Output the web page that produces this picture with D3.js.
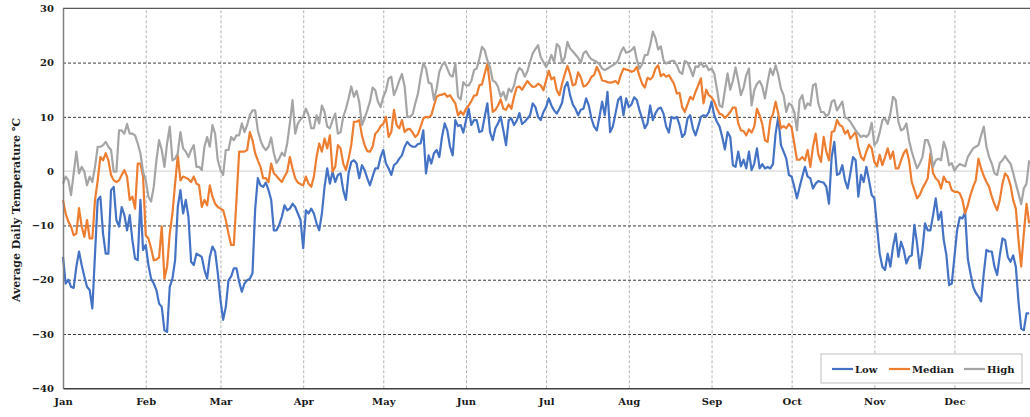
<!DOCTYPE html>
<html>
<head>
<meta charset="utf-8">
<script src="https://cdn.jsdelivr.net/npm/d3@7.9.0/dist/d3.min.js"></script>
<style>
  html, body { margin: 0; padding: 0; background: #fff; }
  svg { display: block; }
  text { font-family: 'DejaVu Serif', serif; font-weight: bold; fill: #1a1a1a; }
</style>
</head>
<body>
<div id="chart"></div>
<script>
// daily values, starting 1 January
const startDate = new Date(2019, 0, 1);

const low = [
  -15.8, -20.7, -20.0, -21.3, -21.5, -17.6, -14.8, -17.3, -19.4, -21.3, -21.9, -25.3, -15.2, -5.3, -4.7, -11.5, -15.2, -15.2, -3.5, -2.9,
  -9.0, -10.2, -6.6, -8.1, -10.9, -8.1, -12.7, -16.1, -16.4, -5.3, -14.5, -13.6, -17.3, -19.8, -20.7, -21.9, -24.4,
  -25.0, -29.3, -29.6, -21.3, -19.8, -16.4, -6.6, -3.5, -7.8, -5.3, -8.4, -16.7, -17.3, -15.2, -15.5, -15.8, -18.2, -19.8, -15.8, -13.9,
  -14.8, -18.8, -23.7, -27.4, -25.0, -20.1, -19.4, -17.9, -17.9, -20.4, -22.2, -20.7, -20.1, -19.8,
  -18.8, -7.0, -1.3, -2.6, -2.9, -2.1, -3.5, -5.3, -10.9, -10.9, -9.9, -8.4, -6.3, -7.2, -6.9, -6.0, -6.6, -7.8, -9.0, -14.2,
  -7.2, -7.8, -6.9, -7.8, -9.6, -10.9, -7.8, -2.9, 0.5, -2.3, -0.1, -2.0, -0.7, -0.4, -3.5, -5.3, -0.4,
  1.7, 2.0, 1.4, -1.3, 1.1, 0.2, -1.3, -2.6, -1.0, 0.5, 0.5, 2.6, 3.9, 1.4, 0.5, -0.7, 1.1, 1.5, 2.3, 2.9,
  4.5, 5.4, 4.8, 4.5, 4.5, 5.0, 5.1, 7.5, -0.4, 2.9, 1.4, 3.3, 3.9, 2.6, 6.3, 8.8,
  7.5, 4.5, 2.9, 9.4, 8.3, 8.5, 7.1, 9.4, 11.5, 8.5, 9.4, 9.4, 7.2, 7.4, 10.0, 12.5, 7.2, 5.7, 7.9, 8.8,
  10.0, 7.5, 4.8, 9.4, 9.7, 8.5, 9.3, 10.7, 8.7, 9.1, 9.7, 10.3, 12.5, 11.8, 10.0,
  9.4, 10.9, 11.8, 13.4, 12.1, 11.2, 10.6, 11.5, 12.6, 15.5, 16.4, 14.0, 12.3, 11.5, 10.3, 11.3, 11.5, 13.4, 12.1, 9.7,
  8.2, 7.5, 10.0, 12.8, 10.3, 14.6, 7.2, 8.2, 10.6, 13.1, 13.7, 10.3, 13.4, 11.8, 12.3, 13.6,
  13.1, 11.2, 9.7, 7.9, 8.8, 12.1, 9.4, 10.7, 11.5, 11.7, 10.6, 8.2, 7.1, 10.0, 9.7, 10.0, 8.5, 6.3, 6.9, 9.7,
  10.3, 7.9, 6.6, 8.2, 10.0, 10.3, 10.1, 10.9, 12.8, 10.3, 9.1, 8.2, 6.3, 4.0,
  7.2, 6.3, 1.1, 0.8, 3.6, 0.9, 2.1, 0.5, 3.6, 0.2, 1.4, 4.2, 0.5, 1.3, 0.5, 0.8, 0.5, 1.3, 6.9, 10.0,
  4.8, 3.6, 2.3, -0.7, -1.0, -2.9, -5.0, -2.9, -1.0, 0.8, -1.0, -1.3, -3.2, -2.3, -1.8, -2.0,
  -2.1, -2.9, -6.0, 2.6, 5.4, -0.7, -0.4, 1.1, -1.7, -3.2, -0.4, 2.6, 2.0, -4.7, -0.7, -2.0, 0.8, -1.7, -4.4, -5.0,
  -10.2, -15.2, -17.6, -18.2, -15.2, -17.6, -13.9, -11.5, -15.8, -13.0, -14.5, -17.0, -15.8, -15.5, -9.9, -13.3,
  -17.9, -14.5, -9.6, -10.9, -10.9, -8.1, -5.0, -9.0, -7.5, -12.7, -15.5, -21.0, -20.7, -15.8, -10.9, -8.5, -8.7, -7.5, -16.1, -18.8,
  -21.3, -22.4, -23.1, -24.0, -18.8, -14.5, -14.8, -14.8, -17.6, -19.1, -15.5, -12.4, -12.7, -15.8, -16.7, -15.5, -17.6, -24.0, -29.0, -29.3,
  -26.2, -26.2
];

const median = [
  -5.3, -7.8, -9.3, -10.2, -11.8, -11.5, -6.8, -10.2, -12.1, -9.0, -12.4, -12.4, -5.3, -1.7, 2.6, 2.0, 3.3, 2.0, -0.7, -1.7,
  -2.0, -1.7, -0.7, 0.2, -1.0, -5.3, -4.7, -6.9, 1.4, 1.4, -1.0, -11.8, -12.4, -14.2, -16.4, -16.3, -15.9,
  -10.2, -19.8, -17.6, -11.5, -7.8, -2.3, 2.9, -1.7, -1.0, -1.2, -1.5, -2.0, -1.0, -2.3, -2.6, -6.6, -5.3, -6.3, -2.6, -4.7,
  -6.0, -6.6, -6.9, -7.2, -9.0, -11.5, -13.6, -13.6, -5.3, 3.6, 3.6, 3.6, 3.9, 7.2,
  5.7, 3.3, 2.0, 0.8, -1.3, -1.3, -2.0, 1.4, -0.4, -0.9, -1.5, -2.0, -1.0, -0.1, 2.6, 0.5, -1.3, -2.1, -2.4, -2.6,
  -1.0, -2.3, -2.9, -1.0, 2.6, 5.1, 3.6, 6.0, 4.2, 6.6, -0.1, 0.8, 4.8, 4.2, 1.4, 0.2, 2.3,
  4.8, 9.1, 9.1, 9.4, 6.6, 4.8, 3.7, 3.6, 4.5, 6.9, 7.4, 8.3, 8.7, 10.0, 6.3, 7.2, 11.3, 8.5, 7.9, 9.4,
  7.2, 7.7, 7.8, 7.1, 6.3, 6.8, 8.2, 9.7, 10.0, 9.9, 10.3, 12.1, 13.7, 14.0, 14.1, 14.3,
  13.7, 14.0, 13.2, 12.5, 10.3, 11.0, 10.4, 11.5, 12.1, 12.9, 13.9, 14.0, 15.8, 16.0, 18.0, 19.8, 15.8, 10.9, 11.3, 12.1,
  13.2, 11.5, 11.3, 12.3, 11.5, 13.7, 15.4, 15.6, 15.0, 15.8, 16.6, 16.0, 15.5, 15.6, 16.1,
  15.8, 14.9, 16.7, 18.5, 16.9, 17.3, 14.9, 14.0, 16.1, 17.9, 19.4, 17.9, 15.8, 16.0, 18.2, 17.3, 15.6, 15.8, 16.4, 17.4,
  17.7, 19.2, 18.2, 16.7, 16.6, 16.4, 16.3, 16.4, 16.6, 16.1, 17.7, 18.9, 18.7, 18.6, 18.3, 18.5,
  19.2, 17.5, 16.1, 15.4, 17.2, 16.9, 17.4, 18.9, 19.5, 17.5, 17.9, 17.4, 17.7, 16.9, 16.0, 14.3, 14.4, 11.8, 10.9, 12.3,
  13.7, 13.2, 14.6, 15.8, 17.1, 12.5, 15.0, 14.0, 13.6, 12.8, 11.5, 10.6, 10.4, 9.8,
  10.3, 10.9, 11.7, 11.7, 8.8, 7.5, 7.4, 6.6, 7.7, 7.1, 8.2, 11.5, 10.3, 8.7, 5.7, 5.4, 9.4, 10.5, 12.8, 10.6,
  7.9, 8.3, 7.9, 8.7, 8.0, 5.1, 2.1, 2.1, 2.6, 2.0, 3.9, 0.8, 4.5, 6.9, 3.1, 1.7,
  6.3, 3.6, 2.0, 7.2, 7.4, 9.4, 8.5, 8.2, 6.9, 7.5, 6.0, 6.6, 7.2, 4.5, 2.6, 2.0, 3.6, 4.9, 4.2, 1.7,
  0.9, 3.0, 1.1, 2.6, 4.2, 2.3, 3.6, 0.5, 0.5, 2.0, 3.3, 4.0, 2.0, -2.0, -3.5, -5.0,
  -4.4, -3.2, -2.3, -1.3, 3.3, -0.4, -1.3, -1.8, -3.2, -1.0, -2.0, -2.0, -3.5, -3.8, -3.8, -4.1, -5.3, -7.8, -6.3, -4.4,
  -2.9, -1.7, 2.3, 0.5, -0.9, -2.0, -2.9, -4.7, -6.1, -7.2, -5.3, -2.3, -0.4, -1.0, -2.6, -5.3, -6.9, -12.7, -17.6, -11.5,
  -6.0, -9.6
];

const high = [
  -2.3, -1.0, -1.7, -4.4, -0.4, 3.6, -0.4, 0.8, -0.1, -2.6, -1.0, -2.0, 0.8, 4.5, 4.5, 4.8, 5.4, 4.5, 3.9, -0.1,
  -0.1, 7.5, 7.5, 6.9, 8.7, 6.9, 6.9, 6.6, 5.1, 3.3, -0.1, -1.7, -4.7, -5.6, -2.9, 2.0, 5.7,
  3.9, 0.8, 5.1, 8.2, 2.0, 2.3, 3.3, 7.2, 4.2, 3.6, 2.6, 3.9, 4.8, 0.8, 0.8, 0.2, 4.5, 6.3, 4.5, 8.5,
  6.9, 2.0, 0.2, -0.7, 3.9, 3.9, 6.3, 5.7, 6.6, 6.6, 8.8, 7.2, 8.5, 10.3,
  11.2, 11.2, 7.5, 5.7, 4.5, 3.9, 4.5, 6.2, 3.3, 1.5, 2.3, 3.4, 2.8, 5.1, 8.8, 13.1, 6.9, 8.8, 9.5, 10.1,
  11.5, 10.3, 7.9, 7.9, 10.3, 8.8, 12.1, 10.9, 8.2, 7.9, 9.4, 10.6, 6.9, 7.2, 10.0, 11.5, 13.4,
  15.6, 13.7, 14.8, 12.7, 8.5, 9.7, 11.2, 12.8, 15.4, 14.9, 12.8, 11.8, 13.7, 14.8, 17.1, 17.4, 14.0, 15.2, 16.7, 17.9,
  15.6, 10.0, 10.0, 10.5, 12.5, 14.3, 17.4, 19.9, 18.9, 16.3, 16.1, 13.1, 15.2, 18.3, 19.5, 20.1,
  18.9, 17.7, 17.4, 19.8, 13.7, 13.2, 16.4, 15.8, 15.8, 16.6, 18.6, 18.9, 20.7, 22.9, 22.3, 20.4, 19.2, 16.7, 16.4, 15.5,
  13.7, 14.6, 13.1, 15.2, 14.6, 15.8, 18.0, 19.0, 18.6, 17.4, 18.4, 20.1, 21.7, 22.5, 23.2,
  21.0, 20.1, 19.2, 20.1, 21.4, 20.1, 23.4, 22.9, 20.0, 21.0, 23.8, 22.6, 22.1, 21.5, 20.9, 20.0, 21.7, 22.1, 21.2, 20.6,
  20.4, 20.1, 19.7, 18.9, 18.6, 18.9, 19.2, 19.5, 19.8, 20.4, 21.9, 22.8, 21.8, 22.0, 22.3, 22.9,
  20.5, 18.9, 19.7, 21.4, 21.4, 23.2, 25.7, 24.5, 22.4, 23.0, 20.4, 19.8, 20.1, 20.3, 20.3, 19.5, 18.3, 17.9, 20.3, 20.0,
  18.9, 17.5, 19.3, 19.2, 20.0, 19.2, 19.5, 18.6, 18.9, 18.0, 15.2, 12.1, 11.8, 14.9,
  18.0, 15.0, 16.7, 19.1, 16.7, 14.0, 15.4, 17.7, 18.9, 12.1, 14.9, 16.1, 16.6, 15.6, 13.4, 16.4, 18.9, 17.7, 19.5, 17.7,
  15.2, 14.0, 10.9, 12.5, 12.1, 10.9, 7.5, 13.1, 14.0, 11.5, 12.5, 12.1, 15.8, 16.1, 12.5, 10.9,
  10.9, 10.1, 10.6, 12.8, 13.1, 11.2, 12.0, 12.8, 9.9, 9.7, 9.1, 8.3, 7.5, 6.9, 6.3, 6.6, 6.3, 6.9, 8.9, 4.8,
  5.4, 7.1, 9.4, 9.7, 8.7, 10.6, 13.7, 13.1, 9.1, 7.5, 7.8, 8.8, 5.7, 3.6, 2.0, 0.5,
  1.4, 2.6, 5.7, 5.7, 4.2, 0.8, 2.0, 2.3, 2.0, 5.4, 3.9, 1.1, 1.5, 0.1, 0.8, 1.3, 1.1, 0.9, 2.6, 3.4,
  4.2, 4.5, 4.8, 6.6, 8.2, 4.5, 2.6, 1.4, -0.4, -0.7, 1.5, 2.0, 2.8, 2.0, 1.4, -0.3, -2.3, -4.1, -6.1, -3.2,
  -2.3, 2.0
];

const seriesNames = ['Low', 'Median', 'High'];
const seriesColors = ['#4472C4', '#ED7D31', '#A5A5A5'];
const yTicks = [-40, -30, -20, -10, 0, 10, 20, 30];
const yTitle = 'Average Daily Temperature ℃';

const width = 1030, height = 417;
const margin = { top: 8.3, left: 63, bottom: 28.7 };
const plot = {
  left: margin.left,
  right: 1034.5,
  top: margin.top,
  bottom: height - margin.bottom
};

const svg = d3.select('#chart').append('svg')
  .attr('width', width)
  .attr('height', height);

const x = d3.scaleTime()
  .domain([startDate, new Date(2019, 11, 31)])
  .range([plot.left, plot.right]);

const y = d3.scaleLinear()
  .domain([-40, 30])
  .range([plot.bottom, plot.top]);

const months = d3.timeMonth.range(startDate, new Date(2020, 0, 1));

// vertical month gridlines
svg.append('g')
  .attr('transform', `translate(0,${plot.bottom})`)
  .call(d3.axisBottom(x).tickValues(months.slice(1)).tickSize(-(plot.bottom - plot.top)).tickFormat(''))
  .call(g => g.select('.domain').remove())
  .call(g => g.selectAll('line').attr('stroke', '#b3b3b3').attr('stroke-dasharray', '3,2'));

// horizontal gridlines
svg.append('g')
  .attr('transform', `translate(${plot.left},0)`)
  .call(d3.axisLeft(y).tickValues([-30, -20, -10, 10, 20]).tickSize(-(width - plot.left)).tickFormat(''))
  .call(g => g.select('.domain').remove())
  .call(g => g.selectAll('line').attr('stroke', '#3a3a3a').attr('stroke-dasharray', '3,2'));

// zero line
svg.append('line')
  .attr('x1', plot.left).attr('x2', width)
  .attr('y1', y(0)).attr('y2', y(0))
  .attr('stroke', '#d9d9d9').attr('stroke-width', 1.2);

// top border
svg.append('line')
  .attr('x1', plot.left).attr('x2', width)
  .attr('y1', plot.top).attr('y2', plot.top)
  .attr('stroke', '#595959').attr('stroke-width', 1.3);

// lines
const series = [low, median, high];
const line = d3.line()
  .x((d, i) => x(d3.timeDay.offset(startDate, i)))
  .y(d => y(d));

svg.append('g')
  .selectAll('path')
  .data(series)
  .join('path')
    .attr('fill', 'none')
    .attr('stroke', (d, i) => seriesColors[i])
    .attr('stroke-width', 2.2)
    .attr('stroke-linejoin', 'round')
    .attr('d', line);

// y axis
svg.append('g')
  .attr('transform', `translate(${plot.left},0)`)
  .call(d3.axisLeft(y).tickValues(yTicks).tickSize(0).tickPadding(9))
  .call(g => g.select('.domain').attr('stroke', '#7f7f7f').attr('stroke-width', 1.5))
  .call(g => g.selectAll('text').attr('font-size', 10).attr('font-family', 'DejaVu Serif').attr('font-weight', 'bold').attr('fill', '#1a1a1a'));

// x axis
svg.append('g')
  .attr('transform', `translate(0,${plot.bottom})`)
  .call(d3.axisBottom(x).tickValues(months).tickFormat(d3.timeFormat('%b')).tickSize(0).tickPadding(10))
  .call(g => g.select('.domain').attr('stroke', '#404040').attr('stroke-width', 1.5))
  .call(g => g.selectAll('text').attr('font-size', 10).attr('font-family', 'DejaVu Serif').attr('font-weight', 'bold').attr('fill', '#1a1a1a'));

// y title
svg.append('text')
  .attr('transform', `translate(20,210) rotate(-90)`)
  .attr('text-anchor', 'middle')
  .attr('font-size', 11)
  .text(yTitle);

// legend
const legend = svg.append('g').attr('transform', 'translate(821,354)');
legend.append('rect')
  .attr('width', 201).attr('height', 29)
  .attr('fill', '#fff').attr('stroke', '#bfbfbf').attr('stroke-width', 1);

const legendX = [11, 68, 143];
const items = legend.selectAll('g.item')
  .data(seriesNames)
  .join('g')
    .attr('class', 'item')
    .attr('transform', (d, i) => `translate(${legendX[i]},15)`);
items.append('line')
  .attr('x1', 0).attr('x2', 21)
  .attr('stroke', (d, i) => seriesColors[i])
  .attr('stroke-width', 2.2);
items.append('text')
  .attr('x', 23).attr('dy', '0.35em')
  .attr('font-size', 10)
  .text(d => d);
</script>
</body>
</html>
